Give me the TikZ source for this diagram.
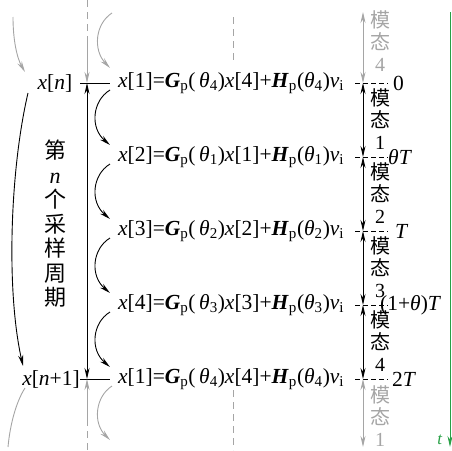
\documentclass[tikz,border=0pt]{standalone}
\usepackage{fontspec}
\setmainfont{Liberation Serif}
\newfontfamily\cjk{Noto Sans CJK SC}
\usetikzlibrary{arrows.meta}
\definecolor{lgray}{RGB}{165,165,165}
\definecolor{tgreen}{RGB}{40,160,70}
\newcommand\myeq[3]{\textit{x}[#1]=\textbf{\textit{G}}\textsubscript{p}(\,\textit{θ}\textsubscript{#2})\textit{x}[#3]+\textbf{\textit{H}}\textsubscript{p}(\textit{θ}\textsubscript{#2})\textit{v}\textsubscript{i}}
\tikzset{
  eqnode/.style={anchor=west,inner sep=0pt,font=\fontsize{21.5}{24}\selectfont},
  varnode/.style={inner sep=0pt,font=\fontsize{21.5}{24}\selectfont},
  modenode/.style={inner sep=0pt,align=center,font=\fontsize{20}{22}\selectfont},
  timenode/.style={anchor=west,inner sep=0pt,font=\fontsize{21.5}{24}\selectfont},
  arr/.style={-{Stealth[length=11pt,width=5pt]},line width=0.9pt},
  darr/.style={{Stealth[length=11pt,width=5pt]}-{Stealth[length=11pt,width=5pt]},line width=0.9pt},
  gline/.style={lgray,line width=0.9pt},
  dashline/.style={dash pattern=on 7pt off 5pt,line width=0.9pt},
}
\begin{document}
\begin{tikzpicture}[x=1pt,y=-1pt]
\useasboundingbox (0,0) rectangle (452,450);
% rows: 83,157,231,305,379
% left labels
\node[varnode] (xn) at (55,83) {\textit{x}[\textit{n}]};
\node[varnode] (xn1) at (51,379) {\textit{x}[\textit{n}+1]};
\node[inner sep=0pt,align=center,font=\fontsize{22}{24.5}\selectfont] (period) at (55,224) {{\cjk 第}\\\textit{n}\\{\cjk 个}\\{\cjk 采}\\{\cjk 样}\\{\cjk 周}\\{\cjk 期}};
% equations
\node[eqnode] (e1) at (118,83) {\myeq{1}{4}{4}};
\node[eqnode] (e2) at (118,157) {\myeq{2}{1}{1}};
\node[eqnode] (e3) at (118,231) {\myeq{3}{2}{2}};
\node[eqnode] (e4) at (118,305) {\myeq{4}{3}{3}};
\node[eqnode] (e5) at (118,379) {\myeq{1}{4}{4}};
% middle vertical
\coordinate (m1) at (87,83);
\coordinate (m5) at (87,379);
\coordinate (h1a) at (80,83); \coordinate (h1b) at (110,83);
\coordinate (h5a) at (80,379); \coordinate (h5b) at (110,379);
\draw[line width=0.9pt] (h1a) -- (h1b);
\draw[line width=0.9pt] (h5a) -- (h5b);
\draw[darr] (m1) -- (m5);
\coordinate (mt0) at (87,0); \coordinate (mt1) at (87,40);
\coordinate (mb0) at (87,450); \coordinate (mb1) at (87,420);
\draw[gline,dashline] (mt0) -- (mt1);
\draw[gline,arr] (mt1) -- (m1);
\draw[gline,dashline] (mb0) -- (mb1);
\draw[gline,arr] (mb1) -- (m5);
% dashed gray verticals at 233
\coordinate (dt0) at (233,17); \coordinate (dt1) at (233,62);
\coordinate (db0) at (233,390); \coordinate (db1) at (233,450);
\draw[gline,dashline] (dt0) -- (dt1);
\draw[gline,dashline] (db0) -- (db1);
% middle curved arrows
\foreach \r/\i in {83/1,157/2,231/3,305/4}{
  \draw[arr] (110,\r+7) .. controls (92,\r+18) and (90,\r+45) .. (110,\r+62);
}
\draw[gline,arr] (112,13) .. controls (95,24) and (93,50) .. (110,68);
\draw[gline,arr] (112,386) .. controls (95,397) and (93,423) .. (110,440);
% left big curve
\draw[arr] (28,93) .. controls (10,170) and (6,290) .. (23,366);
\draw[gline,arr] (13,17) .. controls (13,40) and (17,58) .. (25,72);
\draw[gline] (25,388) .. controls (16,402) and (10,425) .. (8,447);
% right side
\foreach \r in {83,157,231,305,379}{
  \draw[line width=0.9pt,dash pattern=on 5pt off 3pt] (355,\r) -- (388,\r);
}
\coordinate (r0) at (363,12);
\coordinate (r1) at (363,83);
\coordinate (r2) at (363,157);
\coordinate (r3) at (363,231);
\coordinate (r4) at (363,305);
\coordinate (r5) at (363,379);
\coordinate (r6) at (363,447);
\draw[gline,darr] (r0) -- (r1);
\draw[darr] (r1) -- (r2);
\draw[darr] (r2) -- (r3);
\draw[darr] (r3) -- (r4);
\draw[darr] (r4) -- (r5);
\draw[gline,darr] (r5) -- (r6);
\node[modenode,lgray] (mo0) at (380,41) {{\cjk 模}\\{\cjk 态}\\4};
\node[modenode] (mo1) at (380,119) {{\cjk 模}\\{\cjk 态}\\1};
\node[modenode] (mo2) at (380,193) {{\cjk 模}\\{\cjk 态}\\2};
\node[modenode] (mo3) at (380,267) {{\cjk 模}\\{\cjk 态}\\3};
\node[modenode] (mo4) at (380,341) {{\cjk 模}\\{\cjk 态}\\4};
\node[modenode,lgray] (mo5) at (380,416) {{\cjk 模}\\{\cjk 态}\\1};
\node[timenode] (t0) at (393,83) {0};
\node[timenode] (t1) at (388,157) {\textit{θT}};
\node[timenode] (t2) at (395,231) {\textit{T}};
\node[timenode] (t3) at (380,305) {(1+\textit{θ})\textit{T}};
\node[timenode] (t4) at (392,379) {2\textit{T}};
% green time axis
\coordinate (g0) at (450,12);
\coordinate (g1) at (450,447);
\draw[tgreen,arr] (g0) -- (g1);
\node[inner sep=0pt,tgreen,font=\fontsize{17}{20}\selectfont] (tl) at (440,440) {\textit{t}};
\end{tikzpicture}
\end{document}
